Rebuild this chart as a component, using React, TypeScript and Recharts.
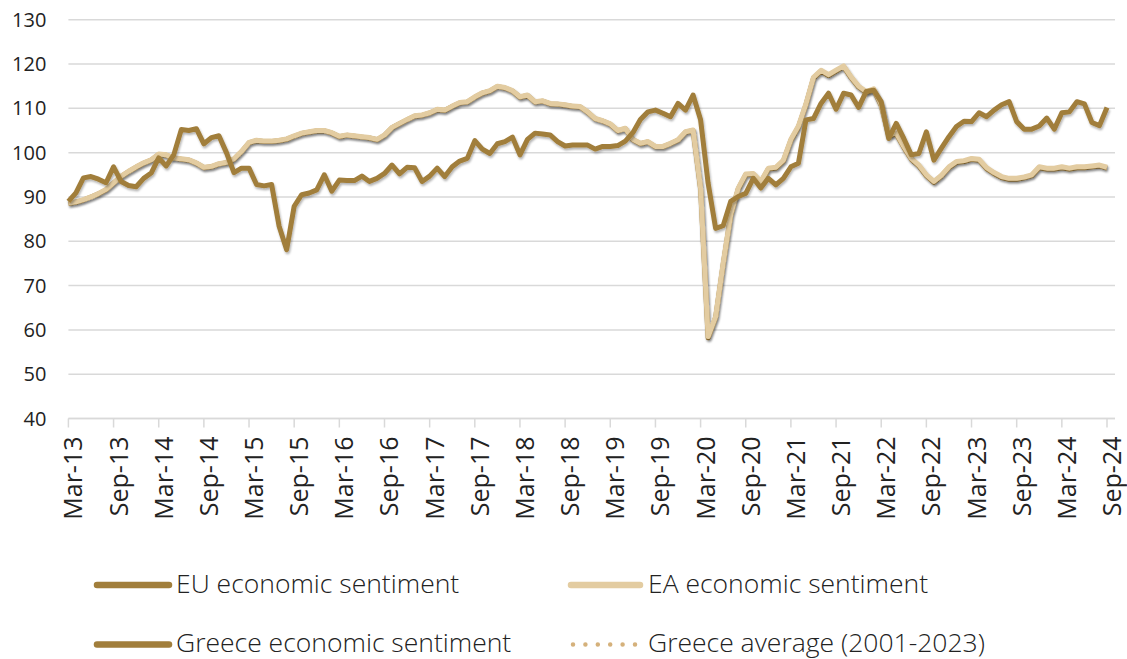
import { LineChart, Line, XAxis, YAxis, CartesianGrid } from "recharts";

const MONTH_NAMES = ["Jan", "Feb", "Mar", "Apr", "May", "Jun", "Jul", "Aug", "Sep", "Oct", "Nov", "Dec"];

// Greece economic sentiment, Mar-13 .. Sep-24 (monthly)
const greece = [
  89.0, 90.9, 94.3, 94.6, 94.0, 93.2, 96.8, 93.5, 92.6, 92.3, 94.2, 95.4,
  98.8, 97.0, 99.5, 105.2, 105.0, 105.4, 102.0, 103.4, 103.8, 100.0, 95.5, 96.5,
  96.5, 92.8, 92.5, 92.8, 83.4, 78.1, 87.9, 90.5, 90.9, 91.6, 95.0, 91.3,
  93.8, 93.7, 93.7, 94.7, 93.5, 94.2, 95.3, 97.2, 95.2, 96.7, 96.6, 93.5,
  94.7, 96.5, 94.6, 96.8, 98.1, 98.7, 102.7, 100.8, 99.8, 102.0, 102.5, 103.5,
  99.5, 103.0, 104.4, 104.2, 104.0, 102.5, 101.5, 101.7, 101.7, 101.7, 100.8, 101.4,
  101.4, 101.6, 102.6, 104.5, 107.5, 109.2, 109.6, 108.9, 108.1, 111.1, 109.6, 113.0,
  107.4, 93.1, 82.9, 83.5, 89.0, 90.1, 90.8, 94.2, 92.0, 94.2, 92.7, 94.2,
  96.8, 97.6, 107.4, 107.7, 111.1, 113.4, 109.8, 113.4, 113.0, 110.2, 113.8, 114.1,
  111.5, 103.2, 106.6, 103.2, 99.5, 99.8, 104.7, 98.3, 101.0, 103.6, 105.9, 107.1,
  107.0, 109.0, 108.1, 109.6, 110.8, 111.5, 107.0, 105.3, 105.3, 106.0, 107.8, 105.3,
  109.0, 109.2, 111.5, 111.0, 106.8, 106.1, 110.2,
];

// EA economic sentiment
const ea = [
  88.6, 88.9, 89.4, 90.0, 90.8, 91.7, 93.2, 94.7, 95.8, 96.8, 97.7, 98.4,
  99.7, 99.5, 98.8, 98.6, 98.4, 97.7, 96.7, 96.9, 97.5, 97.8, 98.6, 100.3,
  102.3, 102.8, 102.6, 102.6, 102.8, 103.1, 103.8, 104.4, 104.7, 105.0, 105.0, 104.5,
  103.7, 104.0, 103.8, 103.6, 103.4, 103.0, 104.0, 105.7, 106.6, 107.5, 108.3, 108.5,
  109.0, 109.8, 109.6, 110.5, 111.3, 111.5, 112.6, 113.5, 114.0, 115.0, 114.7, 114.0,
  112.6, 113.0, 111.5, 111.7, 111.1, 111.0, 110.8, 110.5, 110.4, 109.2, 107.7, 107.2,
  106.5, 105.0, 105.5, 103.0, 102.1, 102.5, 101.4, 101.4, 102.1, 102.9, 104.7, 105.1,
  92.0, 58.5, 63.0, 75.0, 86.0, 92.0, 95.2, 95.3, 93.5, 96.5, 96.7, 98.3,
  103.0, 106.0, 111.0, 117.0, 118.6, 117.6, 118.6, 119.6, 117.1, 115.0, 113.8, 114.4,
  110.8, 104.0, 104.4, 101.4, 98.7, 97.2, 95.0, 93.5, 94.9, 96.8, 98.0, 98.2,
  98.7, 98.5, 96.6, 95.5, 94.6, 94.2, 94.2, 94.5, 95.0, 96.8, 96.5, 96.5,
  96.8, 96.5, 96.8, 96.8, 97.0, 97.2, 96.7,
];

// EU economic sentiment (runs almost exactly under the EA line)
const eu = [
  88.5, 88.8, 89.3, 90.0, 90.7, 91.6, 93.1, 94.6, 95.7, 96.7, 97.6, 98.3,
  99.6, 99.4, 98.8, 98.5, 98.3, 97.6, 96.6, 96.8, 97.4, 97.7, 98.5, 100.2,
  102.2, 102.7, 102.5, 102.5, 102.7, 103.0, 103.7, 104.3, 104.6, 104.9, 104.9, 104.4,
  103.6, 103.9, 103.7, 103.5, 103.3, 102.9, 103.9, 105.6, 106.5, 107.4, 108.2, 108.4,
  108.9, 109.7, 109.5, 110.4, 111.2, 111.4, 112.5, 113.4, 113.9, 114.9, 114.6, 113.9,
  112.5, 112.9, 111.4, 111.6, 111.0, 110.9, 110.7, 110.4, 110.3, 109.1, 107.6, 107.1,
  106.4, 104.9, 105.4, 102.9, 102.0, 102.4, 101.3, 101.3, 102.0, 102.8, 104.6, 105.0,
  91.8, 58.2, 62.8, 74.8, 85.8, 91.8, 95.0, 95.1, 93.3, 96.3, 96.5, 98.1,
  102.8, 105.8, 110.8, 116.8, 118.4, 117.4, 118.4, 119.4, 116.9, 114.8, 113.6, 114.2,
  110.6, 103.8, 104.2, 101.2, 98.5, 97.0, 94.8, 93.3, 94.7, 96.6, 97.8, 98.0,
  98.5, 98.3, 96.4, 95.3, 94.4, 94.0, 94.0, 94.3, 94.8, 96.6, 96.3, 96.3,
  96.6, 96.3, 96.6, 96.6, 96.8, 97.0, 96.5,
];

const tickLabels = [
  "Mar-13", "Sep-13", "Mar-14", "Sep-14", "Mar-15", "Sep-15", "Mar-16", "Sep-16",
  "Mar-17", "Sep-17", "Mar-18", "Sep-18", "Mar-19", "Sep-19", "Mar-20", "Sep-20",
  "Mar-21", "Sep-21", "Mar-22", "Sep-22", "Mar-23", "Sep-23", "Mar-24", "Sep-24",
];

const yTicks = [40, 50, 60, 70, 80, 90, 100, 110, 120, 130];

const months = greece.map((_, i) => `${MONTH_NAMES[(2 + i) % 12]}-${13 + Math.floor((2 + i) / 12)}`);

const data = months.map((month, i) => ({ month, eu: eu[i], ea: ea[i], greece: greece[i] }));

const DARK = "#a17e3b";
const BEIGE = "#e3cca1";
const DOTS = "#d5b17b";
const FONT = "'Open Sans', sans-serif";

function MonthTick({ x, y, payload }: any) {
  const ax = x + 14;
  const ay = y + 9;
  return (
    <text
      x={ax}
      y={ay}
      transform={`rotate(-90 ${ax} ${ay})`}
      textAnchor="end"
      fontSize={25}
      fontFamily={FONT}
      fill="#222"
    >
      {payload.value}
    </text>
  );
}

function Legend() {
  const txt = { fontSize: 26.5, fontFamily: FONT, fontWeight: 300, fill: "#222" } as const;
  return (
    <svg width={1127} height={659} style={{ position: "absolute", left: 0, top: 0, pointerEvents: "none" }}>
      <line x1={97} y1={585} x2={169} y2={585} stroke={DARK} strokeWidth={6.5} strokeLinecap="round" />
      <text x={176} y={593} {...txt}>EU economic sentiment</text>
      <line x1={571} y1={585} x2={640} y2={585} stroke={BEIGE} strokeWidth={6.5} strokeLinecap="round" />
      <text x={648} y={593} {...txt}>EA economic sentiment</text>
      <line x1={97} y1={644.5} x2={169} y2={644.5} stroke={DARK} strokeWidth={6.5} strokeLinecap="round" />
      <text x={176} y={651.5} {...txt}>Greece economic sentiment</text>
      <line
        x1={573}
        y1={644.5}
        x2={636}
        y2={644.5}
        stroke={DOTS}
        strokeWidth={4.5}
        strokeLinecap="round"
        strokeDasharray="0 12.4"
      />
      <text x={648} y={651.5} {...txt}>Greece average (2001-2023)</text>
    </svg>
  );
}

export default function App() {
  return (
    <div style={{ position: "absolute", left: 0, top: 0, width: 1127, height: 659, background: "#fff" }}>
      <svg width={0} height={0} style={{ position: "absolute" }}>
        <defs>
          <filter id="lineShadow" x="-5%" y="-5%" width="110%" height="115%">
            <feDropShadow dx={1} dy={2} stdDeviation={1.2} floodColor="#000" floodOpacity={0.3} />
          </filter>
        </defs>
      </svg>
      <style>{`.recharts-line-curve { filter: url(#lineShadow); }`}</style>
      <LineChart width={1127} height={545} data={data} margin={{ top: 19.7, right: 12, left: 0, bottom: 6.5 }}>
        <CartesianGrid vertical={false} stroke="#d9d9d9" strokeWidth={1.5} />
        <XAxis
          dataKey="month"
          ticks={tickLabels}
          interval={0}
          height={120}
          padding={{ left: 0, right: 8 }}
          tickSize={9}
          tickMargin={0}
          axisLine={{ stroke: "#d9d9d9", strokeWidth: 1.5 }}
          tickLine={{ stroke: "#d9d9d9", strokeWidth: 1.5 }}
          tick={(props: any) => <MonthTick {...props} />}
        />
        <YAxis
          width={68.4}
          domain={[40, 130]}
          ticks={yTicks}
          interval={0}
          axisLine={false}
          tickLine={false}
          tickSize={0}
          tickMargin={22}
          tick={{ fontSize: 20, fontFamily: FONT, fill: "#222" }}
        />
        <Line type="linear" dataKey="eu" stroke={DARK} strokeWidth={5} dot={false} strokeLinejoin="round" isAnimationActive={false} />
        <Line type="linear" dataKey="ea" stroke={BEIGE} strokeWidth={5} dot={false} strokeLinejoin="round" isAnimationActive={false} />
        <Line type="linear" dataKey="greece" stroke={DARK} strokeWidth={5} dot={false} strokeLinejoin="round" isAnimationActive={false} />
      </LineChart>
      <Legend />
    </div>
  );
}
